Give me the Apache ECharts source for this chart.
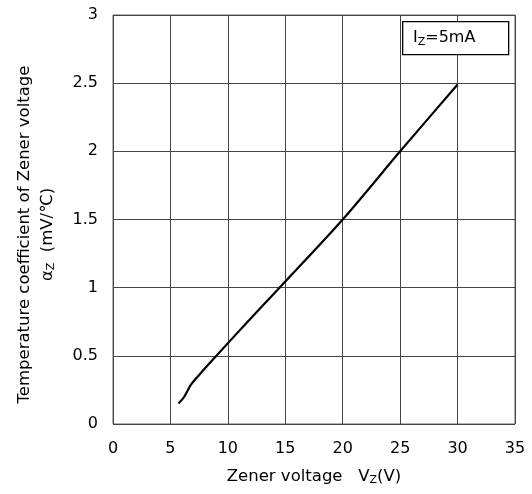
<!DOCTYPE html>
<html>
<head>
<meta charset="utf-8">
<script src="https://cdn.jsdelivr.net/npm/echarts@6/dist/echarts.min.js"></script>
<style>html,body{margin:0;padding:0;background:#fff;}#c{width:532px;height:494px;}</style>
</head>
<body>
<div id="c"></div>
<script>
// Data
var zenerVoltage = [5.7, 6.2, 6.8, 7.5, 9.0, 11.5, 14.5, 20.0, 25.0, 30.0];
var tempCoeff    = [0.15, 0.20, 0.29, 0.36, 0.50, 0.73, 1.00, 1.50, 2.00, 2.49];
var xTicks = [0, 5, 10, 15, 20, 25, 30, 35];
var yTicks = [0, 0.5, 1, 1.5, 2, 2.5, 3];
var annotation = { main: 'I', sub: 'Z', rest: '=5mA' };

var FONT = 'DejaVu Sans';
var FS = 16;
var chart = echarts.init(document.getElementById('c'), null, {renderer: 'canvas'});
var pts = zenerVoltage.map(function (v, i) { return [v, tempCoeff[i]]; });

chart.setOption({
  animation: false,
  backgroundColor: '#fff',
  textStyle: { fontFamily: FONT },
  grid: { left: 113, top: 15, right: 17, bottom: 70, show: true, borderColor: '#666', borderWidth: 1,
          containLabel: false, outerBoundsMode: 'none' },
  xAxis: {
    type: 'value', min: xTicks[0], max: xTicks[xTicks.length - 1], interval: 5,
    axisLine: { show: false }, axisTick: { show: false },
    splitLine: { show: true, lineStyle: { color: '#444', width: 1 } },
    axisLabel: { color: '#000', fontSize: FS, fontFamily: FONT, margin: 17 },
    name: '{t|Zener voltage   V}{s|Z}{t|(V)}',
    nameLocation: 'middle', nameGap: 44,
    nameTextStyle: {
      rich: {
        t: { fontSize: 16.5, color: '#000', fontFamily: FONT },
        s: { fontSize: 11, color: '#000', fontFamily: FONT, padding: [7, 0, 0, 0] }
      }
    }
  },
  yAxis: {
    type: 'value', min: yTicks[0], max: yTicks[yTicks.length - 1], interval: 0.5,
    axisLine: { show: false }, axisTick: { show: false },
    splitLine: { show: true, lineStyle: { color: '#444', width: 1 } },
    axisLabel: { color: '#000', fontSize: FS, fontFamily: FONT, margin: 15 },
    name: '{t|Temperature coefficient of Zener voltage}\n{t|α}{s|Z}{t|  (mV/℃)}',
    nameLocation: 'middle', nameRotate: 90, nameGap: 54,
    nameTextStyle: {
      lineHeight: 23,
      padding: [0, 30, 0, 0],
      rich: {
        t: { fontSize: 16.5, color: '#000', fontFamily: FONT, lineHeight: 23 },
        s: { fontSize: 11, color: '#000', fontFamily: FONT, lineHeight: 23, padding: [7, 0, 0, 0] }
      }
    }
  },
  graphic: [
    {
      type: 'rect', left: 402, top: 21, z: 10,
      shape: { width: 106, height: 33 },
      style: { fill: '#fff', stroke: '#000', lineWidth: 1.3 }
    },
    {
      type: 'text', left: 413, top: 30, z: 11,
      style: {
        text: '{t|' + annotation.main + '}{s|' + annotation.sub + '}{t|' + annotation.rest + '}',
        rich: {
          t: { fontSize: FS, fill: '#000', fontFamily: FONT },
          s: { fontSize: 11, fill: '#000', fontFamily: FONT, padding: [8, 0, 0, 0] }
        }
      }
    }
  ],
  series: [{
    type: 'line', data: pts, smooth: 0.3, showSymbol: false,
    lineStyle: { color: '#000', width: 2.2 }
  }]
});
</script>
</body>
</html>
